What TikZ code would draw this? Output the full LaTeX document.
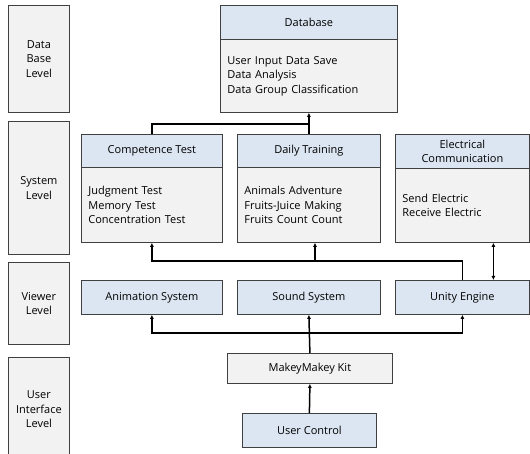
\documentclass[tikz,border=0pt]{standalone}
\usepackage{fontspec}
\setmainfont{Open Sans}
\usetikzlibrary{arrows.meta}
\definecolor{headblue}{HTML}{DCE6F2}
\definecolor{bodygray}{HTML}{F2F2F2}
\definecolor{bordc}{HTML}{404040}
\tikzset{
	every node/.style={font=\fontsize{11}{14.5}\selectfont},
	levelbox/.style={draw=bordc, fill=bodygray, line width=0.8pt, anchor=north west, inner sep=0pt, minimum width=61pt, align=center},
	headbox/.style={draw=bordc, fill=headblue, line width=0.8pt, anchor=north west, inner sep=0pt, align=center},
	bodybox/.style={draw=bordc, fill=bodygray, line width=0.8pt, anchor=north west, inner xsep=7pt, inner ysep=0pt, align=left},
	conn/.style={line width=1.5pt, -{Latex[length=4pt,width=4pt]}},
}
\begin{document}
\begin{tikzpicture}[x=1pt, y=-1pt]
		\useasboundingbox (0,0) rectangle (530,454);
		% levels
		\node[levelbox, minimum height=107pt] (dbl) at (8,5) {Data\\Base\\Level};
		\node[levelbox, minimum height=133pt] (sysl) at (8,121) {System\\Level};
		\node[levelbox, minimum height=82pt] (viewl) at (8,262) {Viewer\\Level};
		\node[levelbox, minimum height=104pt] (uil) at (8,357) {User\\Interface\\Level};
		% data base level
		\node[headbox, minimum width=177pt, minimum height=34pt] (dbhead) at (220,5) {Database};
		\node[bodybox, text width=163pt, minimum height=73pt] (dbbody) at (220,39) {User Input Data Save\\Data Analysis\\Data Group Classification};
		% system level
		\node[headbox, minimum width=141pt, minimum height=33pt] (comphead) at (81,134) {Competence Test};
		\node[bodybox, text width=127pt, minimum height=75pt] (compbody) at (81,167) {Judgment Test\\Memory Test\\Concentration Test};
		\node[headbox, minimum width=143pt, minimum height=33pt] (dailyhead) at (237,134) {Daily Training};
		\node[bodybox, text width=129pt, minimum height=75pt] (dailybody) at (237,167) {Animals Adventure\\Fruits-Juice Making\\Fruits Count Count};
		\node[headbox, minimum width=134pt, minimum height=34pt] (elechead) at (395,134) {Electrical\\Communication};
		\node[bodybox, text width=120pt, minimum height=74pt] (elecbody) at (395,168) {Send Electric\\Receive Electric};
		% viewer level
		\node[headbox, minimum width=141pt, minimum height=34pt] (anim) at (81,280) {Animation System};
		\node[headbox, minimum width=143pt, minimum height=34pt] (sound) at (237,280) {Sound System};
		\node[headbox, minimum width=134pt, minimum height=34pt] (unity) at (395,280) {Unity Engine};
		% user interface level
		\node[headbox, fill=bodygray, minimum width=165pt, minimum height=30pt] (makey) at (227,353) {MakeyMakey Kit};
		\node[headbox, minimum width=134pt, minimum height=34pt] (user) at (242,413) {User Control};
		% connectors
		\coordinate (dbjoin) at (308.5,124);
		\coordinate (sysjoin) at (315,261);
		\coordinate (viewjoin) at (309,333);
		\draw[conn] (dailyhead.north) -- (dbbody.south);
		\draw[line width=1.5pt] (comphead.north) |- (dbjoin);
		\draw[conn] (unity.north) |- (sysjoin) -| (compbody.south);
		\draw[conn] (sysjoin) -- (dailybody.south -| sysjoin);
		\draw[line width=1.5pt, {Latex[length=4pt,width=4pt]}-{Latex[length=4pt,width=4pt]}] ([xshift=31pt]elecbody.south) -- ([xshift=31pt]unity.north);
		\draw[conn] (user.north) -- (makey.south);
		\draw[conn] (makey.north) -- (sound.south);
		\draw[conn] (viewjoin) -| (anim.south);
		\draw[conn] (viewjoin) -| (unity.south);
	\end{tikzpicture}
\end{document}
